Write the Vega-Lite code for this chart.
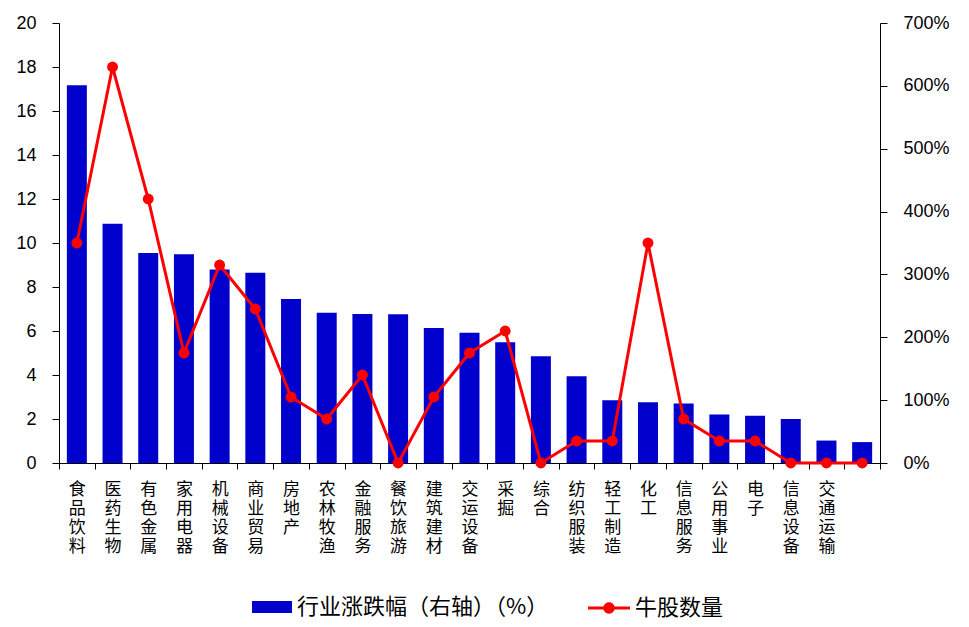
{
  "$schema": "https://vega.github.io/schema/vega-lite/v6.json",
  "autosize": {"type": "none"},
  "padding": {"left": 59, "top": 23, "right": 89, "bottom": 164},
  "width": 821,
  "height": 440,
  "background": "white",
  "config": {
    "view": {"stroke": null},
    "axis": {"grid": false, "domainColor": "black", "tickColor": "black", "labelColor": "black", "labelFont": "Liberation Sans", "labelFontSize": 18, "titleFont": "Liberation Sans"},
    "legend": {"padding": 0, "labelFont": "Noto Sans CJK SC", "labelFontSize": 22, "labelColor": "black", "labelLimit": 0}
  },
  "data": {
    "values": [
      {"industry": "食品饮料", "change": 17.17, "bull": 3.5},
      {"industry": "医药生物", "change": 10.88, "bull": 6.3},
      {"industry": "有色金属", "change": 9.55, "bull": 4.2},
      {"industry": "家用电器", "change": 9.49, "bull": 1.75},
      {"industry": "机械设备", "change": 8.79, "bull": 3.15},
      {"industry": "商业贸易", "change": 8.65, "bull": 2.45},
      {"industry": "房地产", "change": 7.45, "bull": 1.05},
      {"industry": "农林牧渔", "change": 6.83, "bull": 0.7},
      {"industry": "金融服务", "change": 6.77, "bull": 1.4},
      {"industry": "餐饮旅游", "change": 6.76, "bull": 0},
      {"industry": "建筑建材", "change": 6.14, "bull": 1.05},
      {"industry": "交运设备", "change": 5.92, "bull": 1.75},
      {"industry": "采掘", "change": 5.49, "bull": 2.1},
      {"industry": "综合", "change": 4.85, "bull": 0},
      {"industry": "纺织服装", "change": 3.94, "bull": 0.35},
      {"industry": "轻工制造", "change": 2.85, "bull": 0.35},
      {"industry": "化工", "change": 2.76, "bull": 3.5},
      {"industry": "信息服务", "change": 2.7, "bull": 0.7},
      {"industry": "公用事业", "change": 2.2, "bull": 0.35},
      {"industry": "电子", "change": 2.15, "bull": 0.35},
      {"industry": "信息设备", "change": 2.0, "bull": 0},
      {"industry": "交通运输", "change": 1.02, "bull": 0},
      {"industry": " ", "change": 0.95, "bull": 0}
    ]
  },
  "encoding": {
    "x": {
      "field": "industry", "type": "nominal", "sort": null,
      "scale": {"paddingInner": 0, "paddingOuter": 0},
      "axis": {"title": null, "labelAngle": 0, "tickBand": "extent", "tickSize": 6, "labelPadding": 12,
        "labelExpr": "split(datum.label, '')", "labelFont": "Noto Sans CJK SC", "labelFontSize": 17, "labelLineHeight": 19, "labelBaseline": "top"}
    }
  },
  "layer": [
    {
      "mark": {"type": "bar", "width": {"band": 0.56}},
      "encoding": {
        "y": {"field": "change", "type": "quantitative", "scale": {"domain": [0, 20]},
          "axis": {"title": null, "values": [0,2,4,6,8,10,12,14,16,18,20], "tickSize": 7, "labelPadding": 16}},
        "fill": {"datum": "行业涨跌幅（右轴）（%）", "scale": {"range": ["#0000CC"]},
          "legend": {"title": null, "orient": "none", "legendX": 193, "legendY": 564, "symbolType": "M-1,-0.3H1V0.3H-1Z", "symbolSize": 1600, "symbolStrokeWidth": 0, "labelOffset": 5}}
      }
    },
    {
      "layer": [
        {
          "mark": {"type": "line", "color": "#FF0000", "strokeWidth": 3},
          "encoding": {
            "y": {"field": "bull", "type": "quantitative", "scale": {"domain": [0, 7]},
              "axis": {"title": null, "orient": "right", "format": ".0%", "values": [0,1,2,3,4,5,6,7], "tickSize": 7, "labelPadding": 16}}
          }
        },
        {
          "mark": {"type": "point", "filled": true, "size": 120, "opacity": 1},
          "encoding": {
            "y": {"field": "bull", "type": "quantitative"},
            "color": {"datum": "牛股数量", "scale": {"range": ["#FF0000"]},
              "legend": {"title": null, "orient": "none", "legendX": 529, "legendY": 564, "symbolType": "M-1,-0.07H1V0.07H-1Z M0.27,0 A0.27,0.27 0 1,1 -0.27,0 A0.27,0.27 0 1,1 0.27,0Z", "symbolSize": 1764, "symbolStrokeWidth": 0, "symbolOpacity": 1, "labelOffset": 5}}
          }
        }
      ]
    }
  ],
  "resolve": {"scale": {"y": "independent", "color": "independent", "fill": "independent"}}
}
